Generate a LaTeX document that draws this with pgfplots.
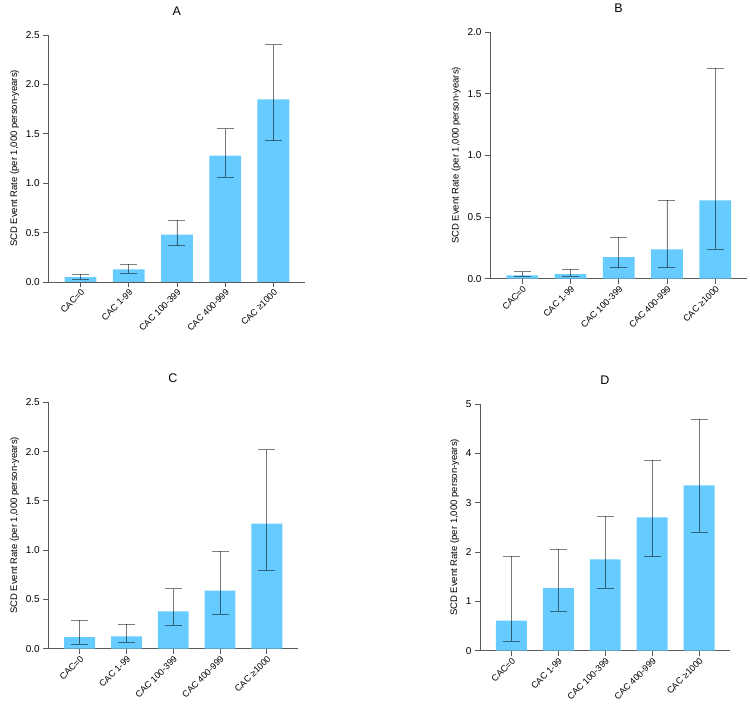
\documentclass[border=0pt]{standalone}
\usepackage{fontspec}
\setmainfont{Liberation Sans}
\usepackage{pgfplots}
\pgfplotsset{compat=1.18}
\definecolor{barblue}{HTML}{66CCFF}
\definecolor{axgray}{HTML}{5A5A5A}
\pgfplotsset{
 panel/.style={
  scale only axis,
  axis lines=left, axis line style={-, draw=axgray, line width=0.9pt},
  tick align=outside, major tick length=5pt, tick style={draw=axgray, line width=0.9pt},
  xmin=-0.67, xmax=4.66, ymin=0,
  xtick={0,1,2,3,4}, xticklabels={CAC=0, CAC 1-99, CAC 100-399, CAC 400-999, CAC ≥1000},
  xticklabel style={rotate=45, anchor=north east, font=\fontsize{9}{10}\selectfont, inner sep=1pt},
  yticklabel style={font=\fontsize{10}{12}\selectfont},
  /pgf/number format/assume math mode=true,
  ylabel={SCD Event Rate (per 1,000 person-years)},
  ylabel style={font=\fontsize{9.5}{11}\selectfont},
  ybar, bar width=0.66,
  title style={at={(0.5,1)}, anchor=center, yshift=18pt, font=\fontsize{12.5}{14}\selectfont},
  anchor=south west,
 },
 dec/.style={yticklabel style={/pgf/number format/.cd, fixed, fixed zerofill, precision=1}},
 bars/.style={fill=barblue, draw=none,
  error bars/.cd, y dir=both, y explicit,
  error bar style={black, opacity=0.5, line width=0.8pt},
  error mark options={black, opacity=0.5, line width=0.8pt, mark size=8.5pt, rotate=90}},
}
\begin{document}
\begin{tikzpicture}
\path[use as bounding box] (0,0) rectangle (750pt,708pt);
% Panel A
\begin{axis}[panel, dec, at={(48.3pt,426pt)}, width=256.9pt, height=247pt,
  ymax=2.5, ytick={0,0.5,1,1.5,2,2.5}, title={A}]
\addplot[bars] coordinates {
 (0,0.05) += (0,0.03) -= (0,0.023)
 (1,0.128) += (0,0.051) -= (0,0.04)
 (2,0.479) += (0,0.149) -= (0,0.111)
 (3,1.279) += (0,0.273) -= (0,0.22)
 (4,1.849) += (0,0.553) -= (0,0.419)
};
\end{axis}
% Panel B
\begin{axis}[panel, dec, at={(490pt,429.3pt)}, width=257pt, height=246.4pt,
  ymax=2.0, ytick={0,0.5,1,1.5,2}, title={B}]
\addplot[bars] coordinates {
 (0,0.027) += (0,0.03) -= (0,0.008)
 (1,0.038) += (0,0.04) -= (0,0.019)
 (2,0.176) += (0,0.162) -= (0,0.087)
 (3,0.238) += (0,0.401) -= (0,0.149)
 (4,0.636) += (0,1.074) -= (0,0.398)
};
\end{axis}
% Panel C
\begin{axis}[panel, dec, at={(48.3pt,59.3pt)}, width=249.4pt, height=246.4pt,
  ymax=2.5, ytick={0,0.5,1,1.5,2,2.5}, title={C}]
\addplot[bars] coordinates {
 (0,0.118) += (0,0.173) -= (0,0.071)
 (1,0.125) += (0,0.122) -= (0,0.057)
 (2,0.379) += (0,0.23) -= (0,0.142)
 (3,0.589) += (0,0.399) -= (0,0.241)
 (4,1.269) += (0,0.751) -= (0,0.471)
};
\end{axis}
% Panel D
\begin{axis}[panel, at={(480pt,57.3pt)}, width=250pt, height=246.7pt,
  ymax=5, ytick={0,1,2,3,4,5}, title={D}]
\addplot[bars] coordinates {
 (0,0.608) += (0,1.311) -= (0,0.412)
 (1,1.27) += (0,0.791) -= (0,0.473)
 (2,1.851) += (0,0.872) -= (0,0.581)
 (3,2.703) += (0,1.155) -= (0,0.798)
 (4,3.351) += (0,1.338) -= (0,0.952)
};
\end{axis}
\end{tikzpicture}
\end{document}
